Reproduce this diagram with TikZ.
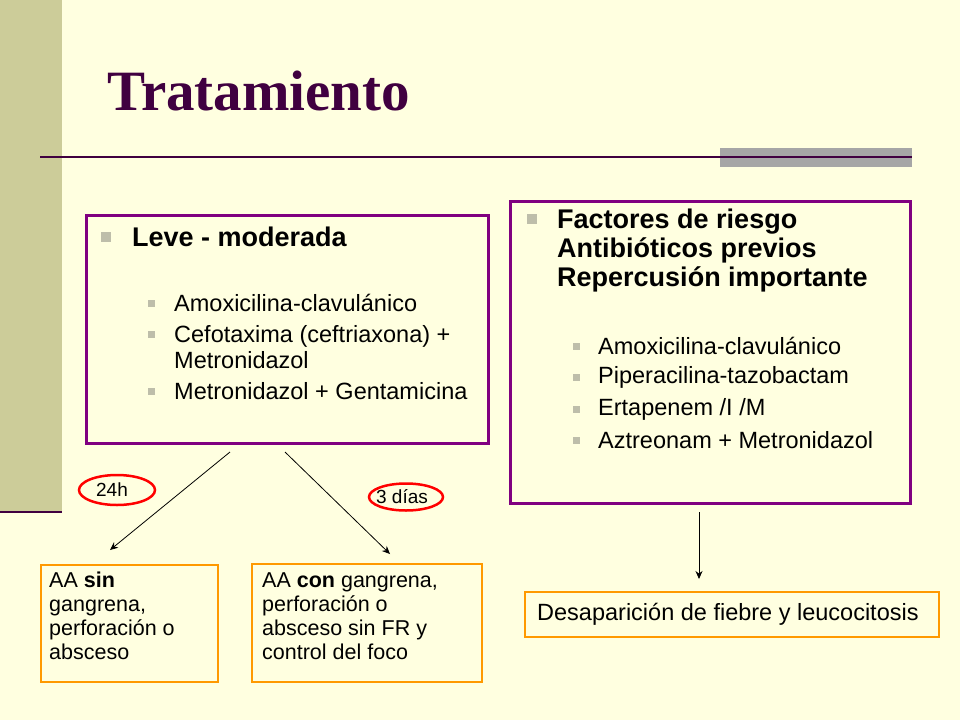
\documentclass[tikz,border=0pt]{standalone}
\usepackage{fontspec}
\setmainfont{Liberation Sans}
\newfontfamily\titlefont{Liberation Serif}
\usetikzlibrary{arrows.meta,shapes.geometric}
\definecolor{bg}{RGB}{255,255,224}
\definecolor{bar}{RGB}{204,204,153}
\definecolor{dpur}{RGB}{64,0,64}
\definecolor{pur}{RGB}{128,0,128}
\definecolor{org}{RGB}{255,153,0}
\definecolor{bul}{RGB}{190,190,170}
\tikzset{
 pbox/.style={draw=pur,line width=3pt},
 obox/.style={draw=org,line width=2.5pt,anchor=north west,align=left,inner sep=0pt},
 oval/.style={draw=red,line width=2.5pt,ellipse},
 arr/.style={-{Stealth[length=8pt,width=7pt]},line width=0.8pt},
 bigb/.style={fill=bul,minimum size=10pt,inner sep=0pt},
 smb/.style={fill=bul,minimum size=7pt,inner sep=0pt},
 txt/.style={anchor=west,inner sep=0pt,align=left}
}
\begin{document}
\begin{tikzpicture}[x=1pt,y=-1pt]
\fill[bg] (0,0) rectangle (960,720);
\useasboundingbox (0,0) rectangle (960,720);
\fill[bar] (0,0) rectangle (62,512);
\draw[dpur,line width=2.5pt] (0,512) -- (62,512);
\node[anchor=base west,inner sep=0pt,text=dpur,font=\titlefont\bfseries\fontsize{57}{57}\selectfont] (title) at (107,110) {Tratamiento};
\fill[gray!70] (720,148) rectangle (912,167);
\draw[dpur,line width=1.5pt] (40,157) -- (912,157);
% left box
\draw[pbox] (86,215) rectangle (488,443);
\node[bigb] at (106,237) {};
\node[txt,font=\bfseries\fontsize{27}{30}\selectfont] at (132,237) {Leve - moderada};
\node[smb] at (151,303) {};
\node[smb] at (151,334) {};
\node[smb] at (151,391) {};
\node[txt,font=\fontsize{23.5}{26}\selectfont] at (174,303) {Amoxicilina-clavulánico};
\node[txt,font=\fontsize{23.5}{26}\selectfont,anchor=north west] at (174,325) {Cefotaxima (ceftriaxona) +\\Metronidazol};
\node[txt,font=\fontsize{23.5}{26}\selectfont] at (174,391) {Metronidazol + Gentamicina};
% right box
\draw[pbox] (510,201) rectangle (910,503);
\node[bigb] at (532,219) {};
\node[txt,font=\bfseries\fontsize{27}{29}\selectfont,anchor=north west] at (557,209) {Factores de riesgo\\Antibióticos previos\\Repercusión importante};
\foreach \y/\t in {346/{Amoxicilina-clavulánico},377/{Piperacilina-tazobactam},409/{Ertapenem /I /M},440/{Aztreonam + Metronidazol}}{
 \node[smb] at (576,\y) {};
 \node[txt,font=\fontsize{23.5}{25}\selectfont] at (598,\y) {\t};
}
% ovals
\node[oval,minimum width=76pt,minimum height=30pt] (o1) at (117,490) {};
\node[font=\fontsize{19}{20}\selectfont] at (112,490) {24h};
\node[oval,minimum width=74pt,minimum height=27pt] (o2) at (406,497) {};
\node[font=\fontsize{19}{20}\selectfont] at (402,497) {3 días};
% bottom boxes
\draw[obox] (41,565) rectangle (218,682);
\node[txt,anchor=north west,font=\fontsize{21.5}{24}\selectfont] (b1) at (49,572) {AA \textbf{sin}\\gangrena,\\perforación o\\absceso};
\draw[obox] (252,564) rectangle (482,682);
\node[txt,anchor=north west,font=\fontsize{21.5}{24}\selectfont] (b2) at (262,572) {AA \textbf{con} gangrena,\\perforación o\\absceso sin FR y\\control del foco};
\draw[obox] (525,592) rectangle (939,637);
\node[txt,font=\fontsize{23.5}{25}\selectfont] (b3) at (537,614) {Desaparición de fiebre y leucocitosis};
\coordinate (s1) at (230,452); \coordinate (e1) at (110,550);
\coordinate (s2) at (285,452); \coordinate (e2) at (390,554);
\coordinate (s3) at (699,512); \coordinate (e3) at (699,579);
\draw[arr] (s1) -- (e1);
\draw[arr] (s2) -- (e2);
\draw[arr] (s3) -- (e3);
\end{tikzpicture}
\end{document}
